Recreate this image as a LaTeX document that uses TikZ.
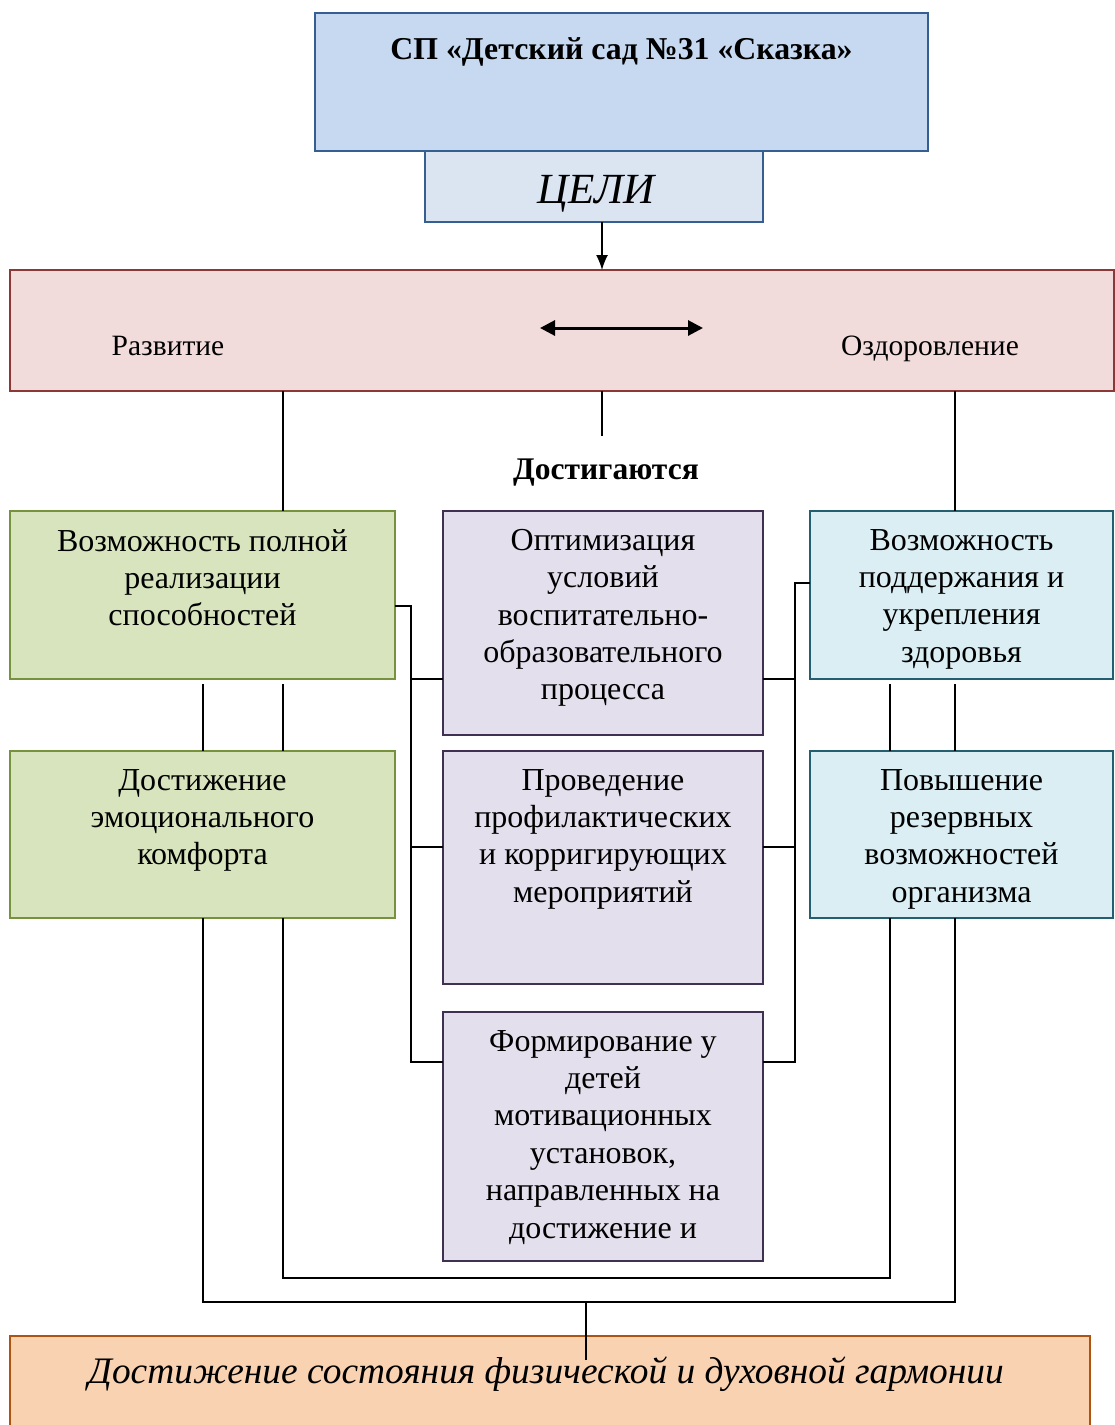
\documentclass[tikz,border=0pt]{standalone}
\usepackage{fontspec}
\setmainfont{Liberation Serif}
\usepackage{tikz}
\usetikzlibrary{positioning,arrows.meta}
\definecolor{spblue}{RGB}{198, 217, 240}
\definecolor{spline}{RGB}{54, 95, 145}
\definecolor{goalblue}{RGB}{219, 229, 241}
\definecolor{aimred}{RGB}{242, 220, 219}
\definecolor{aimredline}{RGB}{140, 56, 54}
\definecolor{devgreen}{RGB}{215, 228, 189}
\definecolor{devgreenline}{RGB}{118, 146, 60}
\definecolor{waypurple}{RGB}{228, 223, 236}
\definecolor{waypurpleline}{RGB}{64, 49, 82}
\definecolor{healthblue}{RGB}{218, 238, 243}
\definecolor{healthblueline}{RGB}{35, 95, 110}
\definecolor{resorange}{RGB}{249, 210, 178}
\definecolor{resorangeline}{RGB}{175, 84, 16}

\begin{document}
\begin{tikzpicture}[x=1pt, y=-1pt,
  box/.style={draw, line width=1.5pt, inner sep=0pt, outer sep=0pt, anchor=north west},
  boxtext/.style={align=center, inner sep=0pt, anchor=north, font=\fontsize{32}{37.4}\selectfont},
  plain/.style={inner sep=0pt, anchor=base, font=\fontsize{29.5}{34}\selectfont},
  link/.style={line width=1.5pt}]
\useasboundingbox (0,0) rectangle (1115,1425);

% Kindergarten and goals
\node[box, fill=spblue, draw=spline, minimum width=613pt, minimum height=138pt] (sp) at (315,13) {};
\node[anchor=north, inner sep=0pt, font=\fontsize{31.8}{36}\selectfont\bfseries] (sptitle) at ([yshift=-24pt]sp.north) {СП «Детский сад №31 «Сказка»};
\node[box, fill=goalblue, draw=spline, minimum width=338pt, minimum height=71pt] (goals) at (425,151) {};
\node[plain, font=\fontsize{43}{48}\selectfont\itshape] (goaltext) at (596,203) {ЦЕЛИ};

% Aims
\node[box, fill=aimred, draw=aimredline, minimum width=1104pt, minimum height=121pt] (aims) at (10,270) {};
\node[plain] (dev) at (168,355) {Развитие};
\node[plain] (health) at (930,355) {Оздоровление};
\coordinate (arrl) at (540,328);
\coordinate (arrr) at (703,328);
\draw[line width=3pt, {Triangle[length=15pt,width=15pt]}-{Triangle[length=15pt,width=15pt]}] (arrl) -- (arrr);
\node[plain, font=\fontsize{31.5}{36}\selectfont\bfseries] (reach) at (606,479) {Достигаются};

% Columns
\node[box, fill=devgreen, draw=devgreenline, minimum width=385pt, minimum height=168pt] (g1) at (10,511) {};
\node[boxtext] (g1t) at ([yshift=-18pt]g1.north) {Возможность полной\\реализации\\способностей};
\node[box, fill=devgreen, draw=devgreenline, minimum width=385pt, minimum height=167pt] (g2) at (10,751) {};
\node[boxtext] (g2t) at ([yshift=-18pt]g2.north) {Достижение\\эмоционального\\комфорта};

\node[box, fill=waypurple, draw=waypurpleline, minimum width=320pt, minimum height=224pt] (p1) at (443,511) {};
\node[boxtext] (p1t) at ([yshift=-18pt]p1.north) {Оптимизация\\условий\\воспитательно-\\образовательного\\процесса};
\node[box, fill=waypurple, draw=waypurpleline, minimum width=320pt, minimum height=233pt] (p2) at (443,751) {};
\node[boxtext] (p2t) at ([yshift=-18pt]p2.north) {Проведение\\профилактических\\и корригирующих\\мероприятий};
\node[box, fill=waypurple, draw=waypurpleline, minimum width=320pt, minimum height=249pt] (p3) at (443,1012) {};
\node[boxtext] (p3t) at ([yshift=-18pt]p3.north) {Формирование у\\детей\\мотивационных\\установок,\\направленных на\\достижение и};

\node[box, fill=healthblue, draw=healthblueline, minimum width=303pt, minimum height=168pt] (b1) at (810,511) {};
\node[boxtext] (b1t) at ([yshift=-18pt]b1.north) {Возможность\\поддержания и\\укрепления\\здоровья};
\node[box, fill=healthblue, draw=healthblueline, minimum width=303pt, minimum height=167pt] (b2) at (810,751) {};
\node[boxtext] (b2t) at ([yshift=-18pt]b2.north) {Повышение\\резервных\\возможностей\\организма};

% Result
\node[box, fill=resorange, draw=resorangeline, minimum width=1080pt, minimum height=110pt] (res) at (10,1336) {};
\node[plain, font=\fontsize{37.4}{42}\selectfont\itshape] (restext) at (546,1383) {Достижение состояния физической и духовной гармонии};

% Connectors
\coordinate (mx) at (602,0);
\coordinate (lx1) at (203,0);
\coordinate (lx2) at (283,0);
\coordinate (rx1) at (890,0);
\coordinate (rx2) at (955,0);
\coordinate (lbr) at (411,0);
\coordinate (rbr) at (795,0);
\coordinate (gout) at (0,606);
\coordinate (bout) at (0,583);
\coordinate (row1) at (0,679);
\coordinate (row2) at (0,847);
\coordinate (row3) at (0,1062);
\coordinate (bot1) at (586,1278);
\coordinate (bot2) at (586,1302);

\draw[link, -{Latex[length=15pt,width=12pt]}] (goals.south -| mx) -- (aims.north -| mx);
\draw[link] (aims.south -| mx) -- ([yshift=22pt]reach.north -| mx);
\draw[link] (aims.south -| lx2) -- (g1.north -| lx2);
\draw[link] (aims.south -| rx2) -- (b1.north -| rx2);
\draw[link, shorten <=5pt] (g1.south -| lx1) -- (g2.north -| lx1);
\draw[link, shorten <=5pt] (g1.south -| lx2) -- (g2.north -| lx2);
\draw[link, shorten <=5pt] (b1.south -| rx1) -- (b2.north -| rx1);
\draw[link, shorten <=5pt] (b1.south -| rx2) -- (b2.north -| rx2);

\draw[link] (g1.east |- gout) -| (lbr |- row3) -- (p3.west |- row3);
\draw[link] (lbr |- row1) -- (p1.west |- row1);
\draw[link] (lbr |- row2) -- (p2.west |- row2);
\draw[link] (b1.west |- bout) -| (rbr |- row3) -- (p3.east |- row3);
\draw[link] (rbr |- row1) -- (p1.east |- row1);
\draw[link] (rbr |- row2) -- (p2.east |- row2);

\draw[link] (g2.south -| lx2) |- (bot1) -| (b2.south -| rx1);
\draw[link] (g2.south -| lx1) |- (bot2) -| (b2.south -| rx2);
\draw[link, shorten >=-24pt] (bot2) -- (res.north -| bot2);
\end{tikzpicture}
\end{document}
